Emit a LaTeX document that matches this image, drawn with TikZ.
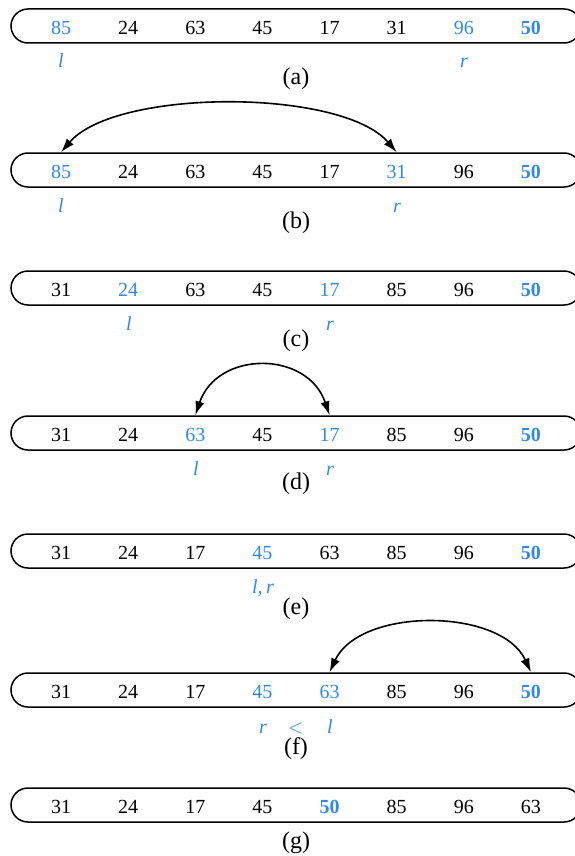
\documentclass[tikz,border=0pt]{standalone}
\usepackage{fontspec}
\setmainfont{Liberation Serif}
\usetikzlibrary{arrows.meta, positioning}
\definecolor{ptrblue}{HTML}{2F89EB}

\begin{document}
\begin{tikzpicture}[
    x=0.5pt, y=-0.5pt,
    font=\fontsize{10}{12}\selectfont,
    rowbox/.style={draw=black, line width=0.75pt, rounded corners=8.5pt,
        minimum width=285pt, minimum height=17pt, inner sep=0pt},
    num/.style={text=black, inner sep=0pt, anchor=base},
    hl/.style={num, text=ptrblue},
    pivot/.style={num, text=ptrblue, font=\fontsize{10}{12}\selectfont\bfseries},
    ptr/.style={text=ptrblue, inner sep=0pt, anchor=base, font=\fontsize{10}{12}\selectfont\itshape},
    caption/.style={inner sep=0pt, anchor=base, font=\large},
    swap/.style={{Latex[length=7pt,width=4.6pt]}-{Latex[length=7pt,width=4.6pt]}, line width=0.8pt}
]
\useasboundingbox (0,0) rectangle (574,856);

% (a) initial pointers
\node[rowbox] (boxa) at (296,26) {};
\foreach \v/\s [count=\i] in {85/hl,24/num,63/num,45/num,17/num,31/num,96/hl,50/pivot}
    {\node[\s] (a\i) at ({61+67.14*(\i-1)},34.5) {\v};}
\node[ptr] (la) at (61,68) {l};
\node[ptr] (ra) at (464,68) {r};
\node[caption] (capa) at (296,84) {(a)};

% (b) swap 85 and 31
\node[rowbox] (boxb) at (296,170) {};
\foreach \v/\s [count=\i] in {85/hl,24/num,63/num,45/num,17/num,31/hl,96/num,50/pivot}
    {\node[\s] (b\i) at ({61+67.14*(\i-1)},178.5) {\v};}
\node[ptr] (lb) at (61,212) {l};
\node[ptr] (rb) at (397,212) {r};
\node[caption] (capb) at (296,228) {(b)};
\draw[swap] (b1 |- boxb.north) .. controls +(55,-64) and +(-55,-64) .. (b6 |- boxb.north);

% (c) pointers move on
\node[rowbox] (boxc) at (296,288) {};
\foreach \v/\s [count=\i] in {31/num,24/hl,63/num,45/num,17/hl,85/num,96/num,50/pivot}
    {\node[\s] (c\i) at ({61+67.14*(\i-1)},296.5) {\v};}
\node[ptr] (lc) at (129,330) {l};
\node[ptr] (rc) at (330,330) {r};
\node[caption] (capc) at (296,346) {(c)};

% (d) swap 63 and 17
\node[rowbox] (boxd) at (296,433) {};
\foreach \v/\s [count=\i] in {31/num,24/num,63/hl,45/num,17/hl,85/num,96/num,50/pivot}
    {\node[\s] (d\i) at ({61+67.14*(\i-1)},441.5) {\v};}
\node[ptr] (ld) at (196,475) {l};
\node[ptr] (rd) at (330,475) {r};
\node[caption] (capd) at (296,489) {(d)};
\draw[swap] (d3 |- boxd.north) .. controls +(22,-65) and +(-22,-65) .. (d5 |- boxd.north);

% (e) pointers meet
\node[rowbox] (boxe) at (296,551) {};
\foreach \v/\s [count=\i] in {31/num,24/num,17/num,45/hl,63/num,85/num,96/num,50/pivot}
    {\node[\s] (e\i) at ({61+67.14*(\i-1)},559.5) {\v};}
\node[ptr] (lre) at (263,593) {l,\,r};
\node[caption] (cape) at (296,614) {(e)};

% (f) pointers cross, swap with pivot
\node[rowbox] (boxf) at (296,690) {};
\foreach \v/\s [count=\i] in {31/num,24/num,17/num,45/hl,63/hl,85/num,96/num,50/pivot}
    {\node[\s] (f\i) at ({61+67.14*(\i-1)},698.5) {\v};}
\node[ptr] (rf) at (263,733) {r};
\node[ptr, font=\fontsize{10}{12}\selectfont] (ltf) at (296,733) {$<$};
\node[ptr] (lf) at (330,733) {l};
\node[caption] (capf) at (296,754) {(f)};
\draw[swap] (f5 |- boxf.north) .. controls +(30,-65) and +(-30,-65) .. (f8 |- boxf.north);

% (g) pivot in place
\node[rowbox] (boxg) at (296,805) {};
\foreach \v/\s [count=\i] in {31/num,24/num,17/num,45/num,50/pivot,85/num,96/num,63/num}
    {\node[\s] (g\i) at ({61+67.14*(\i-1)},813.5) {\v};}
\node[caption] (capg) at (296,848) {(g)};

\end{tikzpicture}
\end{document}
